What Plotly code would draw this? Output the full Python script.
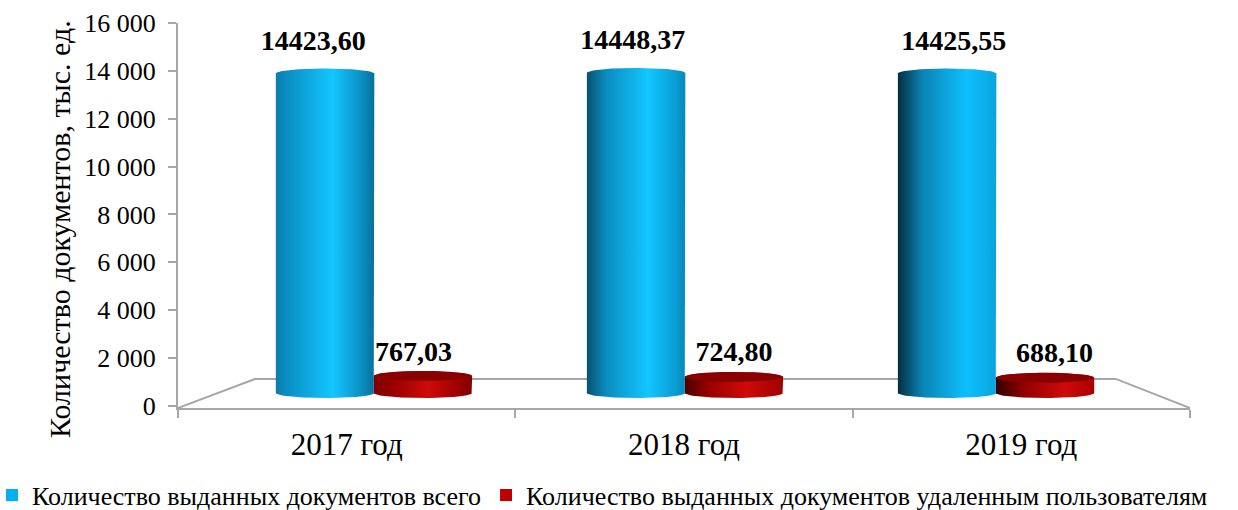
import numpy as np
import plotly.graph_objects as go

# --- data ---
categories = ["2017 год", "2018 год", "2019 год"]
totals = [14423.60, 14448.37, 14425.55]
remote = [767.03, 724.80, 688.10]
total_labels = ["14423,60", "14448,37", "14425,55"]
remote_labels = ["767,03", "724,80", "688,10"]
y_ticks = [0, 2000, 4000, 6000, 8000, 10000, 12000, 14000, 16000]
y_tick_labels = ["0", "2 000", "4 000", "6 000", "8 000", "10 000", "12 000", "14 000", "16 000"]
series_names = ["Количество выданных документов всего",
                "Количество выданных документов удаленным пользователям"]
y_title = "Количество документов, тыс. ед."

# --- pseudo-3D projection (axis units) ---
FONT = "Liberation Serif"
BASE, SCALE = 543, 0.9253
BLUE_X0, RED_X0, STEP, HALF = 0.436, 0.726, 0.922, 0.146
RY = 210
FLOOR_Y, FLOOR_IN = 1130, 0.228
GREY = "#a6a6a6"

blue_scales = [
    [[0, "#0b7cab"], [0.15, "#0a93c8"], [0.58, "#14c6ff"], [0.85, "#0a93c8"], [1, "#08709c"]],
    [[0, "#06526f"], [0.2, "#0a8dc0"], [0.62, "#12c6ff"], [0.88, "#0aa0d8"], [1, "#0888b8"]],
    [[0, "#052f42"], [0.25, "#0a84b5"], [0.7, "#0dc0ff"], [1, "#0aa4dc"]],
]
red_scales = [
    [[0, "#7e0000"], [0.2, "#9a0000"], [0.55, "#cf0a0a"], [0.85, "#a00000"], [1, "#7e0000"]],
    [[0, "#4a0000"], [0.25, "#9a0000"], [0.62, "#cf0a0a"], [1, "#a00000"]],
    [[0, "#300000"], [0.3, "#950000"], [0.7, "#cf0a0a"], [1, "#a80000"]],
]


def top_of(v):
    return BASE + SCALE * v


def arc(cx, cy, a0, a1):
    t = np.radians(np.linspace(a0, a1, 61))
    return cx + HALF * np.cos(t), cy + RY * np.sin(t)


def body(cx, v):
    xt, yt = arc(cx, top_of(v), 180, 0)          # upper rim
    xb, yb = arc(cx, BASE, 0, -180)              # lower rim
    return np.r_[xt, xb, xt[0]], np.r_[yt, yb, yt[0]]


fig = go.Figure()

# floor of the 3D plot
fig.add_trace(go.Scatter(
    x=[0, FLOOR_IN, 3 - 0.22, 3], y=[-84, FLOOR_Y, FLOOR_Y, -84], mode="lines",
    line=dict(color=GREY, width=2), showlegend=False, hoverinfo="skip"))

# draw back to front, left to right
for i in range(3):
    cb = BLUE_X0 + STEP * i
    cr = RED_X0 + STEP * i
    x, y = body(cr, remote[i])
    fig.add_trace(go.Scatter(
        x=x, y=y, mode="lines", line=dict(width=0), fill="toself",
        fillgradient=dict(type="horizontal", colorscale=red_scales[i]),
        showlegend=False, hoverinfo="skip"))
    xt, yt = arc(cr, top_of(remote[i]), 0, 360)
    fig.add_trace(go.Scatter(
        x=xt, y=yt, mode="lines", line=dict(width=0), fill="toself",
        fillcolor="#8a0000", showlegend=False, hoverinfo="skip"))
    x, y = body(cb, totals[i])
    fig.add_trace(go.Scatter(
        x=x, y=y, mode="lines", line=dict(width=0), fill="toself",
        fillgradient=dict(type="horizontal", colorscale=blue_scales[i]),
        showlegend=False, hoverinfo="skip"))

# value labels
BLUE_LABEL_DX = [-0.035, -0.01, 0.02]
RED_LABEL_DX = [-0.028, 0.0, 0.028]
fig.add_trace(go.Scatter(
    x=[BLUE_X0 + STEP * i + BLUE_LABEL_DX[i] for i in range(3)],
    y=[top_of(v) + 1280 for v in totals],
    text=total_labels, mode="text", textposition="middle center",
    textfont=dict(family=FONT, size=28, color="#000000"),
    texttemplate="<b>%{text}</b>", showlegend=False, hoverinfo="skip"))
fig.add_trace(go.Scatter(
    x=[RED_X0 + STEP * i + RED_LABEL_DX[i] for i in range(3)],
    y=[top_of(v) + 940 for v in remote],
    text=remote_labels, mode="text", textposition="middle center",
    textfont=dict(family=FONT, size=28, color="#000000"),
    texttemplate="<b>%{text}</b>", showlegend=False, hoverinfo="skip"))

# legend keys
for name, col in zip(series_names, ["#00b0f0", "#c00000"]):
    fig.add_trace(go.Scatter(
        x=[None], y=[None], mode="markers", name=name,
        marker=dict(symbol="square", size=12, color=col)))

fig.update_layout(
    width=1238, height=510, margin=dict(l=178, r=0, t=23, b=102, autoexpand=False),
    paper_bgcolor="white", plot_bgcolor="white",
    font=dict(family=FONT, color="#000000", size=24),
    showlegend=True,
    legend=dict(orientation="h", x=-0.1755, xanchor="left", y=-0.226, yanchor="middle",
                font=dict(family=FONT, size=26), itemsizing="constant",
                itemwidth=30, tracegroupgap=0, bgcolor="rgba(0,0,0,0)"),
    xaxis=dict(domain=[0, 1012 / 1060], range=[0, 3], tickvals=[0.5, 1.5, 2.5], ticktext=categories,
               showgrid=False, zeroline=False, showline=True, linecolor=GREY, linewidth=2,
               ticks="", ticklabelstandoff=8, tickfont=dict(family=FONT, size=31),
               minor=dict(tickvals=[0, 1, 2, 3], ticks="outside", ticklen=8,
                          tickcolor=GREY, tickwidth=2, showgrid=False)),
    yaxis=dict(range=[-84, 16000], tickvals=y_ticks, ticktext=y_tick_labels,
               showgrid=False, zeroline=False, showline=True, linecolor=GREY, linewidth=2,
               ticks="outside", ticklen=8, tickcolor=GREY, tickwidth=2,
               ticklabelstandoff=7, tickfont=dict(family=FONT, size=26)),
    annotations=[dict(text=y_title, textangle=-90, showarrow=False,
                      xref="paper", yref="paper", x=-118 / 1060, y=(408 - 229) / 385,
                      xanchor="center", yanchor="middle",
                      font=dict(family=FONT, size=30, color="#000000"))],
)

fig.write_html("out.html", config=dict(displayModeBar=False),
               post_script="document.body.style.margin='0';")
